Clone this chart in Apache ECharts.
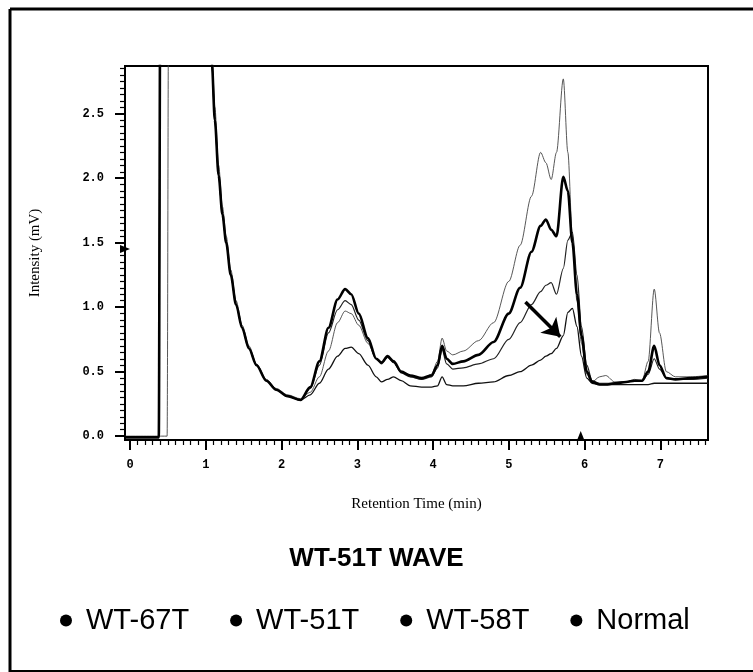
<!DOCTYPE html>
<html>
<head>
<meta charset="utf-8">
<script src="https://cdn.jsdelivr.net/npm/echarts@6/dist/echarts.min.js"></script>
<style>
  html, body { margin: 0; padding: 0; background: #fff; }
  #main { width: 753px; height: 672px; }
</style>
</head>
<body>
<div id="main"></div>
<script>
// retention time (min), shared by all traces
const times = [
  -0.066, 0.38, 0.40, 0.42, 0.49, 0.51, 0.53, 1.00,
  1.08, 1.12, 1.17, 1.22, 1.27, 1.33, 1.40, 1.48, 1.57, 1.67, 1.80, 1.93, 2.08, 2.25,
  2.38, 2.50, 2.62, 2.74, 2.84, 2.92, 3.02, 3.14, 3.25, 3.32, 3.40, 3.48, 3.58, 3.70,
  3.85, 3.98, 4.06, 4.12, 4.18, 4.26, 4.40, 4.60, 4.80, 5.00, 5.15, 5.30, 5.42, 5.49,
  5.56, 5.63, 5.72, 5.78, 5.84, 5.90, 5.96, 6.03, 6.10, 6.20, 6.28, 6.40, 6.55, 6.66,
  6.76, 6.84, 6.92, 6.99, 7.08, 7.20, 7.40, 7.63
]

// intensity (mV) per sample
const wt67t = [
  0.00, 0.00, 0.00, 0.00, 0.00, 3.50, 3.50, 3.50,
  3.00, 2.55, 2.10, 1.78, 1.55, 1.29, 1.05, 0.86, 0.70, 0.56, 0.44, 0.37, 0.32, 0.29,
  0.34, 0.46, 0.66, 0.88, 0.97, 0.95, 0.86, 0.72, 0.60, 0.57, 0.61, 0.57, 0.50, 0.46,
  0.44, 0.48, 0.58, 0.76, 0.66, 0.63, 0.66, 0.74, 0.88, 1.20, 1.48, 1.86, 2.20, 2.12,
  1.99, 2.20, 2.77, 2.20, 1.55, 1.05, 0.72, 0.48, 0.42, 0.46, 0.47, 0.42, 0.42, 0.44,
  0.43, 0.58, 1.14, 0.80, 0.50, 0.46, 0.46, 0.47
]
const wt51t = [
  -0.01, -0.01, 3.50, 3.50, 3.50, 3.50, 3.50, 3.50,
  2.90, 2.45, 2.02, 1.72, 1.50, 1.25, 1.02, 0.84, 0.68, 0.55, 0.43, 0.36, 0.31, 0.28,
  0.38, 0.58, 0.84, 1.06, 1.14, 1.10, 0.95, 0.76, 0.60, 0.57, 0.62, 0.58, 0.50, 0.47,
  0.45, 0.47, 0.55, 0.70, 0.60, 0.56, 0.58, 0.63, 0.73, 0.95, 1.15, 1.43, 1.63, 1.68,
  1.60, 1.55, 2.01, 1.90, 1.50, 1.10, 0.78, 0.50, 0.42, 0.40, 0.40, 0.41, 0.42, 0.43,
  0.43, 0.50, 0.70, 0.55, 0.45, 0.44, 0.45, 0.46
]
const wt58t = [
  -0.01, -0.01, 3.50, 3.50, 3.50, 3.50, 3.50, 3.50,
  2.90, 2.45, 2.02, 1.72, 1.50, 1.25, 1.02, 0.84, 0.68, 0.55, 0.43, 0.36, 0.31, 0.28,
  0.37, 0.55, 0.80, 0.98, 1.05, 1.02, 0.90, 0.74, 0.60, 0.56, 0.61, 0.57, 0.49, 0.46,
  0.44, 0.46, 0.53, 0.67, 0.56, 0.52, 0.53, 0.56, 0.60, 0.75, 0.88, 1.02, 1.12, 1.17,
  1.19, 1.10, 1.30, 1.52, 1.58, 1.25, 0.85, 0.55, 0.43, 0.41, 0.41, 0.41, 0.42, 0.43,
  0.43, 0.48, 0.60, 0.52, 0.45, 0.44, 0.44, 0.45
]
const normal = [
  -0.01, -0.01, 3.50, 3.50, 3.50, 3.50, 3.50, 3.50,
  2.90, 2.45, 2.02, 1.72, 1.50, 1.25, 1.02, 0.84, 0.68, 0.55, 0.43, 0.36, 0.31, 0.28,
  0.32, 0.41, 0.52, 0.62, 0.68, 0.69, 0.64, 0.55, 0.46, 0.42, 0.44, 0.46, 0.43, 0.39,
  0.38, 0.38, 0.39, 0.46, 0.40, 0.39, 0.39, 0.41, 0.42, 0.47, 0.50, 0.55, 0.59, 0.62,
  0.64, 0.68, 0.78, 0.96, 0.99, 0.85, 0.62, 0.45, 0.41, 0.40, 0.40, 0.40, 0.40, 0.40,
  0.40, 0.40, 0.41, 0.41, 0.41, 0.41, 0.41, 0.41
]

// axis ticks
const xTicks = [0, 1, 2, 3, 4, 5, 6, 7]
const yTicks = [0, 0.5, 1.0, 1.5, 2.0, 2.5]
const xRange = [-0.066, 7.63]
const yRange = [-0.03, 2.87]

// arrow annotation and axis markers
const arrowFrom = [5.22, 1.04]
const arrowTo = [5.68, 0.77]
const xMarker = 5.95
const yMarker = 1.42

// minor ticks, 10 per major step
let xMinor = []
for (let i = 1; i < 77; i++) {
  if (i % 10 != 0) xMinor.push(i / 10)
}
let yMinor = []
for (let i = 1; i < 58; i++) {
  if (i % 10 != 0) yMinor.push(i / 20)
}

function pairs(ys) {
  return times.map((t, i) => [t, ys[i]])
}

let myChart = echarts.init(document.getElementById('main'))

const tickFont = {
  fontFamily: 'Liberation Mono',
  fontWeight: 'bold',
  fontSize: 12,
  color: '#000',
}

function line(name, ys, width, color) {
  return {
    name: name,
    type: 'line',
    data: pairs(ys),
    showSymbol: false,
    smooth: 0.3,
    smoothMonotone: 'x',
    color: '#000',
    lineStyle: { width: width, color: color },
    emphasis: { disabled: true },
  }
}

const series = [
  line('WT-67T', wt67t, 0.9, '#444'),
  line('WT-58T', wt58t, 1.2, '#222'),
  line('Normal', normal, 1.3, '#111'),
  line('WT-51T', wt51t, 2.6, '#000'),
]
// arrow + small triangles on the axes
series[3].markLine = {
  silent: true,
  symbol: ['none', 'arrow'],
  symbolSize: 17,
  label: { show: false },
  lineStyle: { color: '#000', width: 3.5, type: 'solid' },
  data: [[{ coord: arrowFrom }, { coord: arrowTo }]],
}
series[3].markPoint = {
  silent: true,
  symbol: 'triangle',
  symbolSize: [8, 10],
  itemStyle: { color: '#000' },
  label: { show: false },
  data: [
    { coord: [xMarker, yRange[0]], symbolOffset: [0, -4] },
    { coord: [xRange[0], yMarker], symbolRotate: -90, symbolOffset: [0, -4] },
  ],
}

const option = {
  animation: false,
  backgroundColor: '#fff',
  title: {
    text: 'WT-51T WAVE',
    left: 'center',
    top: 541,
    textStyle: {
      fontFamily: 'Liberation Sans',
      fontWeight: 'bold',
      fontSize: 26,
      color: '#000',
    },
  },
  legend: {
    data: ['WT-67T', 'WT-51T', 'WT-58T', 'Normal'],
    left: 55,
    top: 601,
    icon: 'circle',
    itemWidth: 30,
    itemHeight: 12,
    itemGap: 41,
    textStyle: { fontFamily: 'Liberation Sans', fontSize: 29, color: '#000' },
  },
  grid: {
    left: 125,
    top: 66,
    right: 45,
    bottom: 232,
    show: true,
    borderColor: '#000',
    borderWidth: 2,
  },
  xAxis: [
    {
      type: 'value',
      min: xRange[0],
      max: xRange[1],
      name: 'Retention Time (min)',
      nameLocation: 'middle',
      nameGap: 57,
      nameTextStyle: { fontFamily: 'Liberation Serif', fontSize: 15, color: '#000' },
      axisLine: { onZero: false, lineStyle: { color: '#000', width: 2 } },
      axisTick: { customValues: xTicks, length: 10, lineStyle: { color: '#000', width: 2 } },
      axisLabel: { customValues: xTicks, margin: 19, formatter: (v) => String(v), ...tickFont },
      splitLine: { show: false },
    },
    {
      type: 'value',
      position: 'bottom',
      min: xRange[0],
      max: xRange[1],
      axisLine: { show: false, onZero: false },
      axisTick: { customValues: xMinor, length: 5, lineStyle: { color: '#000', width: 1.2 } },
      axisLabel: { show: false },
      splitLine: { show: false },
    },
  ],
  yAxis: [
    {
      type: 'value',
      min: yRange[0],
      max: yRange[1],
      name: 'Intensity (mV)',
      nameLocation: 'middle',
      nameGap: 82,
      nameTextStyle: { fontFamily: 'Liberation Serif', fontSize: 15, color: '#000' },
      axisLine: { show: true, onZero: false, lineStyle: { color: '#000', width: 2 } },
      axisTick: { show: true, customValues: yTicks, length: 10, lineStyle: { color: '#000', width: 2 } },
      axisLabel: { customValues: yTicks, margin: 21, formatter: (v) => v.toFixed(1), ...tickFont },
      splitLine: { show: false },
    },
    {
      type: 'value',
      position: 'left',
      min: yRange[0],
      max: yRange[1],
      axisLine: { show: false, onZero: false },
      axisTick: { show: true, customValues: yMinor, length: 5, lineStyle: { color: '#000', width: 1.2 } },
      axisLabel: { show: false },
      splitLine: { show: false },
    },
  ],
  graphic: [
    // outer frame of the figure
    { type: 'line', shape: { x1: 10, y1: 9, x2: 753, y2: 9 }, style: { stroke: '#000', lineWidth: 3 } },
    { type: 'line', shape: { x1: 10, y1: 9, x2: 10, y2: 672 }, style: { stroke: '#000', lineWidth: 3 } },
    { type: 'line', shape: { x1: 10, y1: 671, x2: 753, y2: 671 }, style: { stroke: '#000', lineWidth: 2 } },
  ],
  series: series,
}

myChart.setOption(option)
</script>
</body>
</html>
